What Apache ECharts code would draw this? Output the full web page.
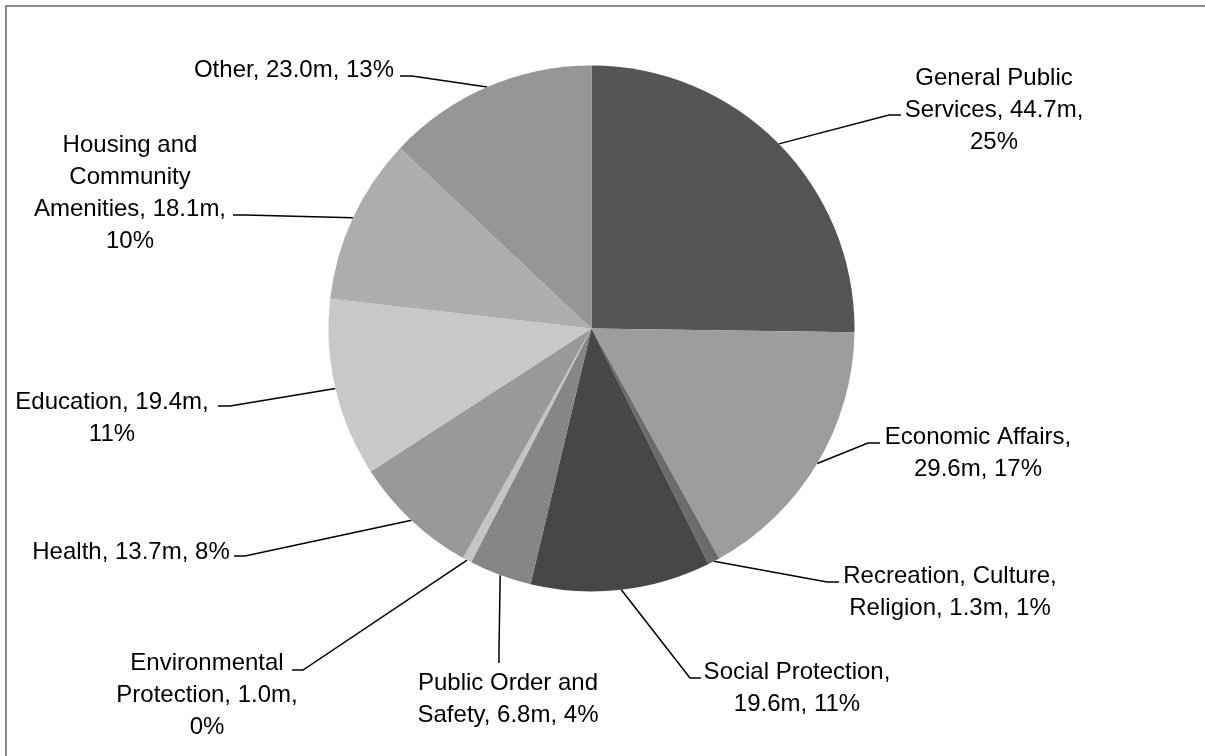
<!DOCTYPE html>
<html>
<head>
<meta charset="utf-8">
<script src="https://cdn.jsdelivr.net/npm/echarts@6/dist/echarts.min.js"></script>
<style>
  html, body { margin: 0; padding: 0; background: #ffffff; }
  #chart { width: 1205px; height: 756px; }
</style>
</head>
<body>
<div id="chart"></div>
<script>
// Spending by function (millions)
const categories = [
  'General Public Services', 'Economic Affairs', 'Recreation, Culture, Religion',
  'Social Protection', 'Public Order and Safety', 'Environmental Protection',
  'Health', 'Education', 'Housing and Community Amenities', 'Other'
];
const spending = [44.7, 29.6, 1.3, 19.6, 6.8, 1.0, 13.7, 19.4, 18.1, 23.0];
const shareLabels = ['25%', '17%', '1%', '11%', '4%', '0%', '8%', '11%', '10%', '13%'];

// How each label wraps; {v} = value, {p} = share
const labelWraps = [
  ['General Public', 'Services, {v},', '{p}'],
  ['Economic Affairs,', '{v}, {p}'],
  ['Recreation, Culture,', 'Religion, {v}, {p}'],
  ['Social Protection,', '{v}, {p}'],
  ['Public Order and', 'Safety, {v}, {p}'],
  ['Environmental', 'Protection, {v},', '{p}'],
  ['Health, {v}, {p}'],
  ['Education, {v},', '{p}'],
  ['Housing and', 'Community', 'Amenities, {v},', '{p}'],
  ['Other, {v}, {p}']
];

const sliceColors = ['#555555', '#9d9d9d', '#6b6b6b', '#474747', '#868686',
                     '#c4c4c4', '#999999', '#c8c8c8', '#adadad', '#969696'];

// Label block centres and leader-line bend/end points
const labelCenters = [
  [994, 110], [978, 453], [950, 592], [797, 688], [508, 699],
  [207, 695], [131, 552], [112, 418], [130, 193], [294, 70]
];
const leaderEnds = [
  [[889, 115], [901, 115]],
  [[868, 443], [880, 443]],
  [[827, 582], [839, 582]],
  [[690, 678], [701, 678]],
  [[499, 650], [499, 663]],
  [[303, 670], [292, 670]],
  [[245, 556], [234, 556]],
  [[230, 406], [218, 406]],
  [[245, 215], [233, 215]],
  [[412, 76], [400, 76]]
];

const pieData = categories.map((name, i) => ({
  name: name,
  value: spending[i],
  itemStyle: { color: sliceColors[i] }
}));

const chart = echarts.init(document.getElementById('chart'), null, { renderer: 'canvas' });

chart.setOption({
  animation: false,
  backgroundColor: '#ffffff',
  graphic: [{
    type: 'rect',
    shape: { x: 6, y: 6, width: 1300, height: 800 },
    style: { fill: 'none', stroke: '#8a8a8a', lineWidth: 2 },
    silent: true
  }],
  series: [{
    type: 'pie',
    center: [591.5, 328.5],
    radius: 263,
    startAngle: 90,
    clockwise: true,
    avoidLabelOverlap: false,
    data: pieData,
    itemStyle: { borderWidth: 0 },
    label: {
      show: true,
      position: 'outside',
      fontFamily: 'Liberation Sans, Arial, sans-serif',
      fontSize: 24,
      lineHeight: 32,
      color: '#000000',
      align: 'center',
      formatter: (p) => labelWraps[p.dataIndex]
        .map(s => s.replace('{v}', spending[p.dataIndex].toFixed(1) + 'm')
                   .replace('{p}', shareLabels[p.dataIndex]))
        .join('\n')
    },
    labelLine: {
      show: true,
      length: 10,
      length2: 10,
      smooth: false,
      lineStyle: { color: '#000000', width: 1.5 }
    },
    labelLayout: (params) => {
      const i = params.dataIndex;
      const start = params.labelLinePoints ? params.labelLinePoints[0] : null;
      const c = labelCenters[i];
      const e = leaderEnds[i];
      const out = { x: c[0], y: c[1], align: 'center', verticalAlign: 'middle' };
      if (start) {
        out.labelLinePoints = [start, e[0], e[1]];
      }
      return out;
    },
    emphasis: { disabled: true }
  }]
});
</script>
</body>
</html>
